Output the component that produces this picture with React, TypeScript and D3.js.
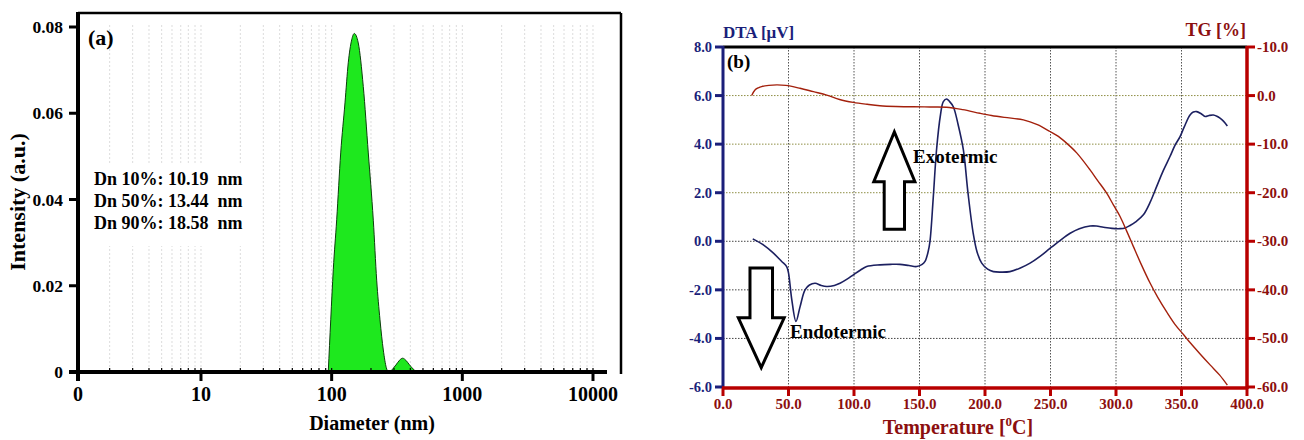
import React from "react";
import * as d3 from "d3";

// ---------- Panel (a): particle size distribution ----------
const mainPeakDiameter = [94.2, 98.4, 102.9, 109.3, 117.3, 126.5, 134, 142.3, 149, 159.8, 174.6, 190.7, 208.3, 221.1, 234.4, 248.5, 262, 270];
const mainPeakIntensity = [0, 0.0121, 0.0237, 0.0353, 0.0508, 0.0624, 0.0717, 0.077, 0.0785, 0.0763, 0.0662, 0.0508, 0.0352, 0.0213, 0.0121, 0.0051, 0.001, 0];
const smallPeakDiameter = [279.5, 295, 310, 330, 349.5, 370, 391, 420, 447.7];
const smallPeakIntensity = [0, 0.0008, 0.0016, 0.0027, 0.0032, 0.0027, 0.0018, 0.0007, 0];
const diameterTickValues = [10, 100, 1000, 10000];
const diameterTickLabels = ["10", "100", "1000", "10000"];
const intensityTicks = [0, 0.02, 0.04, 0.06, 0.08];
const intensityTickLabels = ["0", "0.02", "0.04", "0.06", "0.08"];
const dnLines = ["Dn 10%: 10.19  nm", "Dn 50%: 13.44  nm", "Dn 90%: 18.58  nm"];
const diameterDomain = [1.145, 12800];

// ---------- Panel (b): DTA / TG ----------
const dtaTemp = [22.7, 30.8, 38.5, 44.8, 48.6, 50, 52.5, 55.7, 58.8, 62.6, 66, 70.3, 75, 79.2, 85, 89.3, 95, 99.5, 105, 109.7, 119.8, 128, 135, 142, 147.8, 152, 154.2, 156.5, 158, 160.5, 163, 166, 168.2, 170.7, 173, 175.8, 179.5, 183.5, 187, 191, 194, 197.5, 202, 206.4, 212, 219, 227, 234.4, 242, 249.6, 257, 265, 272, 280.2, 285, 290.4, 297, 303.1, 307, 310.7, 315, 320.9, 326, 331, 336, 341.2, 345, 348.9, 352, 356.5, 359, 361.6, 365, 368, 371, 374.3, 377, 379.4, 382, 385];
const dtaValue = [0.1, -0.15, -0.49, -0.83, -1.04, -1.3, -2.4, -3.3, -2.7, -2.0, -1.8, -1.73, -1.82, -1.86, -1.82, -1.73, -1.55, -1.38, -1.18, -1.04, -0.97, -0.95, -0.95, -1.0, -1.04, -0.95, -0.83, -0.45, 0.0, 1.8, 3.76, 5.2, 5.75, 5.86, 5.75, 5.54, 4.8, 3.76, 2.0, 0.33, -0.45, -0.9, -1.15, -1.25, -1.27, -1.25, -1.1, -0.9, -0.62, -0.29, 0.02, 0.33, 0.52, 0.63, 0.63, 0.58, 0.53, 0.52, 0.55, 0.65, 0.8, 1.09, 1.6, 2.25, 2.9, 3.49, 3.95, 4.31, 4.7, 5.2, 5.32, 5.34, 5.25, 5.14, 5.18, 5.2, 5.15, 5.07, 4.95, 4.75];
const tgTemp = [21.9, 24.4, 27, 29.5, 35, 41, 48, 58.8, 69, 79.2, 89, 99.5, 110, 119.8, 132, 145.3, 158, 170.7, 183, 196.2, 205, 215, 229.3, 240, 249.6, 256, 262.3, 270, 280.2, 286, 292.9, 298, 303.1, 308, 313.3, 319, 326, 332, 338.8, 345, 351.5, 357, 364.2, 372, 379, 385];
const tgValue = [0, 1.15, 1.6, 1.85, 2.1, 2.2, 2.1, 1.5, 0.8, 0.1, -0.8, -1.4, -1.8, -2.1, -2.25, -2.3, -2.35, -2.4, -2.9, -3.65, -4.1, -4.5, -5.0, -6.0, -7.4, -8.4, -9.8, -11.8, -15.3, -17.5, -20.1, -22.5, -24.9, -27.8, -31.1, -34.6, -38.6, -41.6, -44.6, -47.1, -49.2, -51.0, -53.2, -55.5, -57.5, -59.6];
const tempTicks = [0, 50, 100, 150, 200, 250, 300, 350, 400];
const dtaTicks = [-6, -4, -2, 0, 2, 4, 6, 8];
const tgTicks = [10, 0, -10, -20, -30, -40, -50, -60];
const tgTickLabels = ["-10.0", "0.0", "-10.0", "-20.0", "-30.0", "-40.0", "-50.0", "-60.0"];
// arrows: centre temperature, tip, head base, tail (DTA units), head half width, shaft half width (°C)
const upArrow = { c: 130.8, tip: 4.5, head: 2.45, tail: 0.5, hh: 15.7, sh: 7.75 };
const downArrow = { c: 29.2, tip: -5.2, head: -3.15, tail: -1.1, hh: 17.5, sh: 8.6 };

const FONT = "'Liberation Serif', 'Times New Roman', serif";
const NAVY = "#1b1f7a";
const RED = "#b80000";
const DARKRED = "#8c0f0f";

export default function App() {
  // ----- scales panel (a)
  const xA = d3.scaleLog().domain(diameterDomain).range([78, 607]);
  const yA = d3.scaleLinear().domain([0, 0.08]).range([372, 27]);
  const minor: number[] = [];
  for (const base of [1, 10, 100, 1000, 10000]) {
    for (let k = 1; k <= 9; k++) {
      const v = k * base;
      if (v > diameterDomain[0] && v < diameterDomain[1]) minor.push(v);
    }
  }
  const area = d3
    .area<[number, number]>()
    .x((d) => xA(d[0]))
    .y0(yA(0))
    .y1((d) => yA(d[1]))
    .curve(d3.curveMonotoneX);
  const mainData = mainPeakDiameter.map((d, i) => [d, mainPeakIntensity[i]] as [number, number]);
  const smallData = smallPeakDiameter.map((d, i) => [d, smallPeakIntensity[i]] as [number, number]);

  // ----- scales panel (b)
  const xB = d3.scaleLinear().domain([0, 400]).range([723, 1247]);
  const yDTA = d3.scaleLinear().domain([-6, 8]).range([387, 47]);
  const yTG = d3.scaleLinear().domain([-60, 10]).range([387, 47]);
  const dtaLine = d3
    .line<number>()
    .x((_, i) => xB(dtaTemp[i]))
    .y((v) => yDTA(v))
    .curve(d3.curveCatmullRom.alpha(0.5));
  const tgLine = d3
    .line<number>()
    .x((_, i) => xB(tgTemp[i]))
    .y((v) => yTG(v))
    .curve(d3.curveCatmullRom.alpha(0.5));
  const arrowPath = (a: typeof upArrow) => {
    const pts: [number, number][] = [
      [a.c - a.sh, a.tail],
      [a.c - a.sh, a.head],
      [a.c - a.hh, a.head],
      [a.c, a.tip],
      [a.c + a.hh, a.head],
      [a.c + a.sh, a.head],
      [a.c + a.sh, a.tail],
    ];
    return "M" + pts.map((p) => `${xB(p[0])},${yDTA(p[1])}`).join("L") + "Z";
  };

  const x0 = xA.range()[0];
  const xEnd = xA.range()[1];
  const yBase = yA(0);

  return (
    <svg
      width={1304}
      height={440}
      style={{ position: "absolute", left: 0, top: 0, background: "#fff" }}
      fontFamily={FONT}
      fontWeight="bold"
    >
      <rect x={0} y={0} width={1304} height={440} fill="#fff" />
      {/* ================= Panel (a) ================= */}
      <g>
        {minor.map((v) => (
          <line key={"g" + v} x1={xA(v)} x2={xA(v)} y1={25} y2={yBase} stroke="#dcdcdc" strokeWidth={1} strokeDasharray="2,2" />
        ))}
        <rect x={90} y={164} width={160} height={82} fill="#fff" />
        <path d={area(mainData) || ""} fill="#1ee81e" stroke="#0d3d0d" strokeWidth={1} />
        <path d={area(smallData) || ""} fill="#1ee81e" stroke="#0d3d0d" strokeWidth={1} />
        {/* frame */}
        <line x1={x0} x2={621} y1={13} y2={13} stroke="#000" strokeWidth={2.5} />
        <line x1={621} x2={621} y1={13} y2={374} stroke="#000" strokeWidth={2.5} />
        <line x1={x0} x2={x0} y1={12} y2={381} stroke="#000" strokeWidth={4} />
        <line x1={69} x2={xEnd} y1={yBase} y2={yBase} stroke="#000" strokeWidth={4} />
        {/* minor ticks */}
        {minor.map((v) => (
          <line key={"m" + v} x1={xA(v)} x2={xA(v)} y1={yBase} y2={yBase - 4} stroke="#000" strokeWidth={1.2} />
        ))}
        {diameterTickValues.map((v, i) => (
          <g key={"xt" + v}>
            <line x1={xA(v)} x2={xA(v)} y1={yBase} y2={yBase + 9} stroke="#000" strokeWidth={3} />
            <text x={xA(v)} y={401} textAnchor="middle" fontSize={20}>
              {diameterTickLabels[i]}
            </text>
          </g>
        ))}
        <text x={x0} y={401} textAnchor="middle" fontSize={20}>0</text>
        {intensityTicks.map((v, i) => (
          <g key={"yt" + v}>
            <line x1={69} x2={x0} y1={yA(v)} y2={yA(v)} stroke="#000" strokeWidth={3} />
            <text x={63} y={yA(v) + 6} textAnchor="end" fontSize={17.5}>
              {intensityTickLabels[i]}
            </text>
          </g>
        ))}
        <text x={88} y={45} fontSize={22}>(a)</text>
        {dnLines.map((t, i) => (
          <text key={t} x={94} y={185 + i * 21.8} fontSize={18} style={{ whiteSpace: "pre" }}>
            {t}
          </text>
        ))}
        <text transform="translate(25,202) rotate(-90)" textAnchor="middle" fontSize={22}>
          Intensity (a.u.)
        </text>
        <text x={372} y={430} textAnchor="middle" fontSize={20}>
          Diameter (nm)
        </text>
      </g>

      {/* ================= Panel (b) ================= */}
      <g>
        {tempTicks.slice(1, -1).map((t) => (
          <line key={"vg" + t} x1={xB(t)} x2={xB(t)} y1={47} y2={387} stroke="#555" strokeWidth={1} strokeDasharray="1.5,1.5" />
        ))}
        {dtaTicks.slice(1, -1).map((v) => (
          <line
            key={"hg" + v}
            x1={723}
            x2={1247}
            y1={yDTA(v)}
            y2={yDTA(v)}
            stroke={v > 0 ? "#8e8e45" : "#444"}
            strokeWidth={1}
            strokeDasharray="1.5,1.5"
          />
        ))}
        <path d={dtaLine(dtaValue) || ""} fill="none" stroke="#1c2060" strokeWidth={1.6} />
        <path d={tgLine(tgValue) || ""} fill="none" stroke="#a3200c" strokeWidth={1.4} />
        <path d={arrowPath(upArrow)} fill="#fff" stroke="#000" strokeWidth={3} strokeLinejoin="miter" />
        <path d={arrowPath(downArrow)} fill="#fff" stroke="#000" strokeWidth={3} strokeLinejoin="miter" />
        <text x={913} y={163} fontSize={19}>Exotermic</text>
        <text x={790} y={338} fontSize={19}>Endotermic</text>
        <text x={727} y={68} fontSize={19}>(b)</text>
        {/* axes */}
        <line x1={723} x2={1247} y1={47} y2={47} stroke="#000" strokeWidth={3} />
        <line x1={723} x2={723} y1={46} y2={388} stroke={NAVY} strokeWidth={3} />
        {dtaTicks.map((v) => (
          <g key={"dt" + v}>
            <line x1={715} x2={723} y1={yDTA(v)} y2={yDTA(v)} stroke={NAVY} strokeWidth={3} />
            <text x={712} y={yDTA(v) + 5} textAnchor="end" fontSize={14.5} fill={NAVY}>
              {v.toFixed(1)}
            </text>
          </g>
        ))}
        <line x1={722} x2={1248} y1={388} y2={388} stroke={RED} strokeWidth={3.5} />
        {tempTicks.map((t) => (
          <g key={"tt" + t}>
            <line x1={xB(t)} x2={xB(t)} y1={388} y2={396} stroke={RED} strokeWidth={3} />
            <text x={xB(t)} y={409} textAnchor="middle" fontSize={15} fill={DARKRED}>
              {t.toFixed(1)}
            </text>
          </g>
        ))}
        <line x1={1247} x2={1247} y1={46} y2={389} stroke={RED} strokeWidth={3.5} />
        {tgTicks.map((v, i) => (
          <g key={"tg" + i}>
            <line x1={1247} x2={1255} y1={yTG(v)} y2={yTG(v)} stroke={RED} strokeWidth={3} />
            <text x={1257} y={yTG(v) + 5} fontSize={15} fill={DARKRED}>
              {tgTickLabels[i]}
            </text>
          </g>
        ))}
        <text x={723} y={38} fontSize={17} fill={NAVY}>DTA [μV]</text>
        <text x={1246} y={36} textAnchor="end" fontSize={18} fill={DARKRED}>TG [%]</text>
        <text x={958} y={434} textAnchor="middle" fontSize={20} fill={DARKRED}>
          Temperature [<tspan fontSize={13} dy={-8}>0</tspan>
          <tspan dy={8}>C]</tspan>
        </text>
      </g>
    </svg>
  );
}
